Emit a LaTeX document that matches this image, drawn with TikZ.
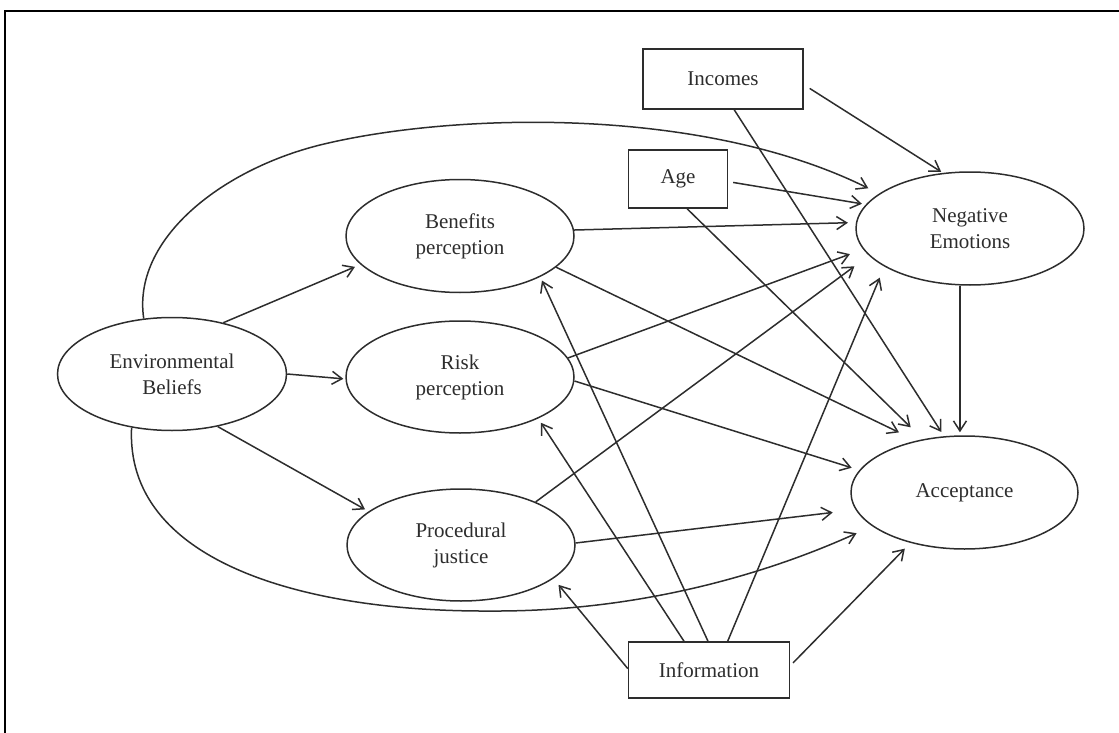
\documentclass[tikz,border=0pt]{standalone}
\usepackage{fontspec}
\setmainfont{Liberation Serif}
\usetikzlibrary{shapes.geometric,arrows.meta}
\definecolor{lc}{RGB}{45,45,45}
\definecolor{tc}{RGB}{45,45,45}
\newcommand\diafont{\fontsize{21}{26}\selectfont}
\begin{document}
\begin{tikzpicture}[x=1pt,y=-1pt,
  ell/.style={draw=lc, line width=1.5pt, ellipse, inner sep=0pt, align=center, font=\diafont, text=tc},
  boxn/.style={draw=lc, line width=1.5pt, rectangle, inner sep=0pt, font=\diafont, text=tc},
  arr/.style={draw=lc, line width=1.5pt, -{Straight Barb[length=10pt,width=13pt]}},
  frame/.style={draw=black, line width=2pt}]
\useasboundingbox (0,0) rectangle (1119,733);
\draw[frame] (5,733) -- (5,11) -- (1119,11);
% nodes
\node[ell, minimum width=229pt, minimum height=113pt] (env) at (172,374) {Environmental\\Beliefs};
\node[ell, minimum width=228pt, minimum height=113pt] (ben) at (460,236) {Benefits\\perception};
\node[ell, minimum width=228pt, minimum height=112pt] (risk) at (460,377) {Risk\\perception};
\node[ell, minimum width=228pt, minimum height=112pt] (proc) at (461,545) {Procedural\\justice};
\node[ell, minimum width=228pt, minimum height=113pt] (neg) at (970,228.5) {Negative\\Emotions};
\node[ell, minimum width=227pt, minimum height=113pt] (acc) at (964.5,492.5) {Acceptance};
\node[boxn, minimum width=160pt, minimum height=60pt] (inc) at (723,79) {Incomes};
\node[boxn, minimum width=99pt, minimum height=58pt] (age) at (678,179) {Age};
\node[boxn, minimum width=161pt, minimum height=56pt] (info) at (709,670) {Information};
% connectors
\draw[arr, shorten >=6pt] (env.45) -- (ben.196);
\draw[arr, shorten >=2pt] (env.0) -- (risk.181);
\draw[arr, shorten >=4pt] (env.311) -- (proc.160);
\draw[arr, shorten >=12pt] (env.117) .. controls (132,240) and (220,170) .. (320,145)
   .. controls (450,113) and (700,105) .. (neg.159);
\draw[arr, shorten >=17pt] (env.233) .. controls (125,560) and (300,612) .. (490,611)
   .. controls (650,612) and (780,568) .. (acc.200);
\draw[arr, shorten >=8pt] (ben.3) -- (neg.177);
\draw[arr, shorten >=19pt] (ben.342) -- (acc.133);
\draw[arr, shorten >=14pt] (risk.10) -- (neg.191);
\draw[arr, shorten >=8pt] (risk.358) -- (acc.168);
\draw[arr, shorten >=18pt] (proc.30) -- (neg.195);
\draw[arr, shorten >=23pt] (proc.1) -- (acc.189);
\draw[arr, shorten >=3pt] (neg.260) -- (neg.260 |- acc.north);
\draw[arr, shorten <=7pt, shorten >=2pt] (inc.-4) -- (neg.116);
\draw[arr, shorten >=5pt] (inc.-70) -- (acc.110);
\draw[arr, shorten <=5pt, shorten >=4pt] (age.-3) -- (neg.167);
\draw[arr, shorten >=17pt] (age.-73) -- (acc.128);
\draw[arr, shorten >=4pt] (info.92) -- (ben.333);
\draw[arr, shorten >=5pt] (info.131) -- (risk.332);
\draw[arr, shorten >=12pt] (info.57) -- (neg.204);
\draw[arr, shorten >=8pt] (info.179) -- (proc.340);
\draw[arr, shorten <=4pt, shorten >=8pt] (info.3) -- (acc.223);
\end{tikzpicture}
\end{document}
